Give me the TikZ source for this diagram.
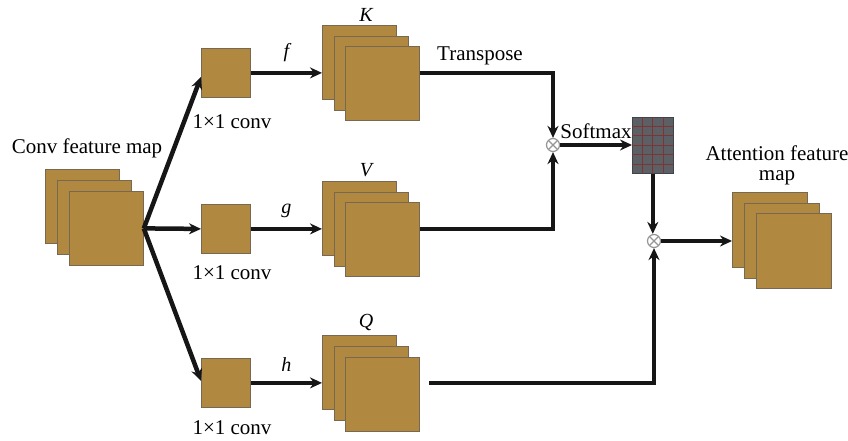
\documentclass[tikz,border=0pt]{standalone}
\usepackage{fontspec}
\setmainfont{Liberation Serif}
\usetikzlibrary{arrows.meta,calc}

\definecolor{fmfill}{RGB}{176,136,64}
\definecolor{fmedge}{RGB}{118,104,82}
\definecolor{flowc}{RGB}{22,22,22}
\definecolor{gridfill}{RGB}{92,96,101}
\definecolor{gridline}{RGB}{125,52,52}
\definecolor{opedge}{RGB}{150,150,150}

\begin{document}
\begin{tikzpicture}[x=1pt,y=-1pt,
  fm/.style={draw=fmedge,fill=fmfill,line width=0.8pt,minimum size=74pt,inner sep=0pt,anchor=north west},
  convbox/.style={fm,minimum size=49pt},
  lbl/.style={font=\fontsize{21}{24}\selectfont,inner sep=0pt},
  sym/.style={font=\fontsize{20}{24}\selectfont\itshape,inner sep=0pt},
  flow/.style={line width=4.5pt,draw=flowc,line join=miter,-{Stealth[length=12pt,width=11pt]}},
  plain/.style={line width=4.5pt,draw=flowc,line join=miter},
  otimes/.style={circle,draw=opedge,fill=white,line width=1.2pt,minimum size=13pt,inner sep=0pt,
    path picture={\draw[opedge,line width=1.1pt]
      (path picture bounding box.north west) -- (path picture bounding box.south east)
      (path picture bounding box.north east) -- (path picture bounding box.south west);}},
  softbox/.style={draw=gridfill!70!black,fill=gridfill,line width=0.6pt,minimum width=41pt,minimum height=56pt,inner sep=0pt,anchor=north west}
]
\useasboundingbox (0,0) rectangle (848,441);

% input feature map
\node[fm] (in1) at (45,169) {};
\node[fm] (in2) at (57,180) {};
\node[fm] (in3) at (69,191) {};
\node[lbl] (inlbl) at (87,148) {Conv feature map};

% 1x1 convolutions
\node[convbox] (c1) at (201,48) {};
\node[convbox] (c2) at (201,204) {};
\node[convbox] (c3) at (201,358) {};
\node[lbl] (c1lbl) at (232,122) {1×1 conv};
\node[lbl] (c2lbl) at (232,273) {1×1 conv};
\node[lbl] (c3lbl) at (232,428) {1×1 conv};

% K, V, Q stacks
\node[fm] (K1) at (322,25) {};
\node[fm] (K2) at (334,36) {};
\node[fm] (K3) at (345,46) {};
\node[sym] (Klbl) at (366,15) {K};

\node[fm] (V1) at (322,181) {};
\node[fm] (V2) at (334,192) {};
\node[fm] (V3) at (345,202) {};
\node[sym] (Vlbl) at (366,170) {V};

\node[fm] (Q1) at (322,335) {};
\node[fm] (Q2) at (334,346) {};
\node[fm] (Q3) at (345,357) {};
\node[sym] (Qlbl) at (366,322) {Q};

% attention output stack
\node[fm,minimum size=75pt] (at1) at (732,192) {};
\node[fm,minimum size=75pt] (at2) at (744,203) {};
\node[fm,minimum size=75pt] (at3) at (756,213) {};
\node[lbl] (atlbl1) at (777,153) {Attention feature};
\node[lbl] (atlbl2) at (777,178) {map};

% products and softmax map
\node[otimes] (ot1) at (553,145) {};
\node[otimes] (ot2) at (654,241) {};
\node[softbox] (sm) at (632,117) {};
\foreach \i in {1,2,3}
  \draw[gridline,line width=0.9pt] ($(sm.north west)!\i/4!(sm.north east)$) -- ($(sm.south west)!\i/4!(sm.south east)$);
\foreach \i in {1,...,5}
  \draw[gridline,line width=0.9pt] ($(sm.north west)!\i/6!(sm.south west)$) -- ($(sm.north east)!\i/6!(sm.south east)$);
\node[lbl] (smlbl) at (596,131) {Softmax};
\node[lbl] (tplbl) at (480,56) {Transpose};

% branch from the input
\draw[flow] (in3.east) -- ([yshift=-4pt]c1.west);
\draw[flow] (in3.east) -- (c2.west);
\draw[flow] (in3.east) -- ([yshift=2pt]c3.west);

% f, g, h
\draw[flow] (c1.east) -- (c1.east -| K1.west) node[sym,midway,above=9pt] (flbl) {f};
\draw[flow] (c2.east) -- (c2.east -| V1.west) node[sym,midway,above=9pt] (glbl) {g};
\draw[flow] (c3.east) -- (c3.east -| Q1.west) node[sym,midway,above=9pt] (hlbl) {h};

% attention computation
\draw[flow] (K3.east |- c1.east) -- (ot1 |- c1.east) -- (ot1.north);
\draw[flow] (V3.east |- c2.east) -- (ot1 |- c2.east) -- (ot1.south);
\draw[flow] (ot1.east) -- (ot1 -| sm.west);
\draw[flow] (sm.south) -- (sm.south |- ot2.north);
\draw[flow] ([xshift=9pt]Q3.east |- c3.east) -- (ot2 |- c3.east) -- (ot2.south);
\draw[flow] (ot2.east) -- (ot2 -| at1.west);
\end{tikzpicture}
\end{document}
